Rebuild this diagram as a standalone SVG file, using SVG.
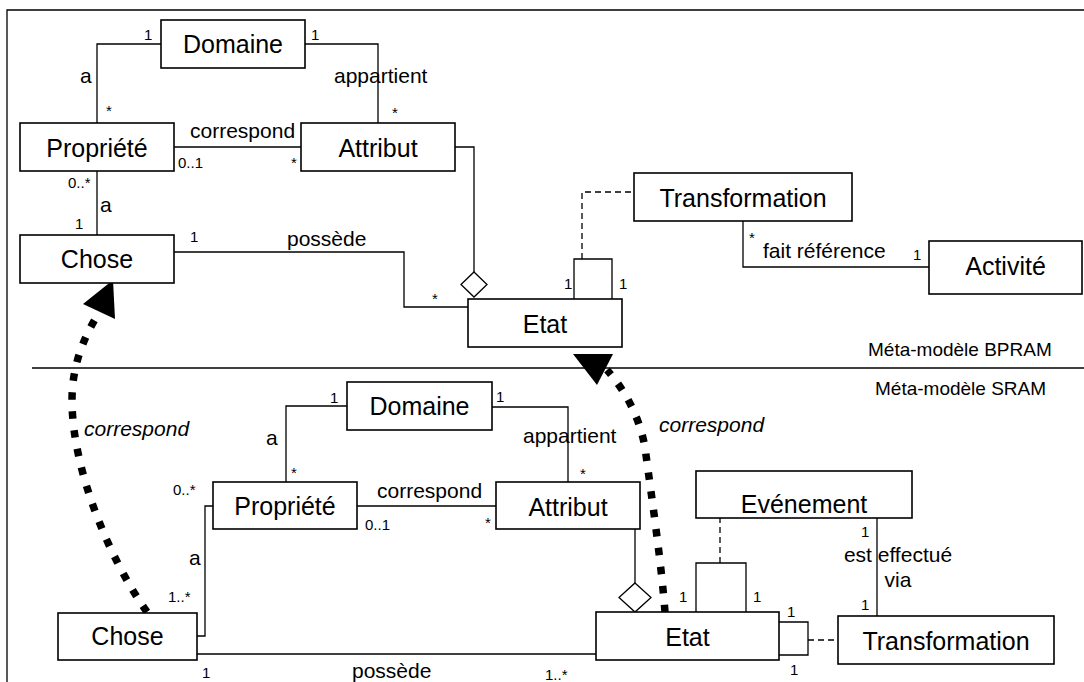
<svg xmlns="http://www.w3.org/2000/svg" width="1084" height="682" viewBox="0 0 1084 682">
<style>
.box{fill:#fff;stroke:#000;stroke-width:1.6}
.ln{fill:none;stroke:#000;stroke-width:1.3}
.dash{fill:none;stroke:#000;stroke-width:1.3;stroke-dasharray:6 4}
.dot{fill:none;stroke:#000;stroke-width:7.5;stroke-dasharray:7.5 11.5}
.dia{fill:#fff;stroke:#000;stroke-width:1.3}
text{font-family:"Liberation Sans",Arial,Helvetica,sans-serif;fill:#000}
.cls{font-size:25px;text-anchor:middle}
.lbl{font-size:21px}
.m{font-size:15px}
.it{font-style:italic}
.sec{font-size:19px}
</style>
<rect width="1084" height="682" fill="#fff"/>
<g id="connectors">
  <path class="ln" d="M7,682 V10 H1084"/>
  <path class="ln" d="M32,368 H1084"/>
  <!-- top -->
  <path class="ln" d="M161,44 H97 V123"/>
  <path class="ln" d="M305,44 H378 V123"/>
  <path class="ln" d="M174,147 H301"/>
  <path class="ln" d="M97,171 V235"/>
  <path class="ln" d="M174,252 H404 V307 H468"/>
  <path class="ln" d="M455,147 H474 V272"/>
  <polygon class="dia" points="474,272 487,284.5 474,297 461,284.5"/>
  <path class="ln" d="M574,299 V259 H612 V299"/>
  <path class="dash" d="M582,259 V192 H634"/>
  <path class="ln" d="M743,221 V267 H929"/>
  <!-- bottom -->
  <path class="ln" d="M347,406 H286 V482"/>
  <path class="ln" d="M492,407 H568 V482"/>
  <path class="ln" d="M357,506 H496"/>
  <path class="ln" d="M213,506 H205 V636 H197"/>
  <path class="ln" d="M197,654 H596"/>
  <path class="ln" d="M635,529 V583"/>
  <polygon class="dia" points="635,583 651,597.5 635,612 619,597.5"/>
  <path class="ln" d="M696,612 V563 H746 V612"/>
  <path class="dash" d="M720,563 V518"/>
  <path class="ln" d="M877,518 V616"/>
  <path class="ln" d="M779,622 H808 V655 H779"/>
  <path class="dash" d="M808,640 H838"/>
  <!-- correspond dotted arrows -->
  <path class="dot" d="M147,612 C110,560 72,470 72,400 C72,360 88,330 100,311"/>
  <polygon points="113,280 83,304 115,319" fill="#000"/>
  <path class="dot" d="M665,612 C661,560 652,500 646,455 C642,420 625,390 607,370"/>
  <polygon points="573,354 613,354 597,385" fill="#000"/>
  <!-- labels -->
  <text class="m" x="144" y="40">1</text>
  <text class="lbl" x="80" y="83">a</text>
  <text class="m" x="106" y="116">*</text>
  <text class="m" x="311" y="40">1</text>
  <text class="lbl" x="334" y="83">appartient</text>
  <text class="m" x="392" y="118">*</text>
  <text class="lbl" x="190" y="138">correspond</text>
  <text class="m" x="178" y="168">0..1</text>
  <text class="m" x="291" y="168">*</text>
  <text class="m" x="68" y="188">0..*</text>
  <text class="lbl" x="100" y="212">a</text>
  <text class="m" x="75" y="229">1</text>
  <text class="m" x="190" y="242">1</text>
  <text class="lbl" x="287" y="246">possède</text>
  <text class="m" x="432" y="304">*</text>
  <text class="m" x="564" y="289">1</text>
  <text class="m" x="619" y="289">1</text>
  <text class="m" x="749" y="243">*</text>
  <text class="lbl" x="763" y="258">fait référence</text>
  <text class="m" x="913" y="260">1</text>
  <text class="m" x="330" y="403">1</text>
  <text class="lbl" x="266" y="445">a</text>
  <text class="m" x="291" y="478">*</text>
  <text class="m" x="173" y="495">0..*</text>
  <text class="m" x="496" y="402">1</text>
  <text class="lbl" x="523" y="443">appartient</text>
  <text class="m" x="580" y="479">*</text>
  <text class="lbl" x="377" y="498">correspond</text>
  <text class="m" x="365" y="530">0..1</text>
  <text class="m" x="485" y="528">*</text>
  <text class="lbl" x="189" y="565">a</text>
  <text class="m" x="168" y="602">1..*</text>
  <text class="m" x="202" y="678">1</text>
  <text class="lbl" x="352" y="678">possède</text>
  <text class="m" x="545" y="680">1..*</text>
  <text class="m" x="679" y="602">1</text>
  <text class="m" x="753" y="602">1</text>
  <text class="m" x="787" y="617">1</text>
  <text class="m" x="790" y="675">1</text>
  <text class="m" x="861" y="537">1</text>
  <text class="lbl" x="898" y="562" text-anchor="middle">est effectué</text>
  <text class="lbl" x="898" y="587" text-anchor="middle">via</text>
  <text class="m" x="861" y="610">1</text>
  <text class="lbl it" x="84" y="436">correspond</text>
  <text class="lbl it" x="659" y="432">correspond</text>
  <text class="sec" x="868" y="356">Méta-modèle BPRAM</text>
  <text class="sec" x="875" y="395">Méta-modèle SRAM</text>
</g>
<g id="domaine1"><rect class="box" x="161" y="20" width="144" height="48"/><text class="cls" x="233" y="53">Domaine</text></g>
<g id="propriete1"><rect class="box" x="20" y="123" width="154" height="48"/><text class="cls" x="97" y="157">Propriété</text></g>
<g id="attribut1"><rect class="box" x="301" y="123" width="154" height="48"/><text class="cls" x="378" y="157">Attribut</text></g>
<g id="chose1"><rect class="box" x="20" y="235" width="154" height="48"/><text class="cls" x="97" y="268">Chose</text></g>
<g id="etat1"><rect class="box" x="468" y="299" width="154" height="48"/><text class="cls" x="545" y="333">Etat</text></g>
<g id="transformation1"><rect class="box" x="634" y="173" width="218" height="48"/><text class="cls" x="743" y="207">Transformation</text></g>
<g id="activite1"><rect class="box" x="929" y="241" width="153" height="53"/><text class="cls" x="1005.5" y="275">Activité</text></g>
<g id="domaine2"><rect class="box" x="347" y="382" width="145" height="48"/><text class="cls" x="419.5" y="415">Domaine</text></g>
<g id="propriete2"><rect class="box" x="213" y="482" width="144" height="47"/><text class="cls" x="285" y="515">Propriété</text></g>
<g id="attribut2"><rect class="box" x="496" y="482" width="144" height="47"/><text class="cls" x="568" y="516">Attribut</text></g>
<g id="chose2"><rect class="box" x="58" y="613" width="139" height="47"/><text class="cls" x="127.5" y="645">Chose</text></g>
<g id="etat2"><rect class="box" x="596" y="612" width="183" height="48"/><text class="cls" x="687.5" y="646">Etat</text></g>
<g id="evenement2"><rect class="box" x="696" y="471" width="216" height="47"/><text class="cls" x="804" y="513">Evénement</text></g>
<g id="transformation2"><rect class="box" x="838" y="616" width="216" height="48"/><text class="cls" x="946" y="650">Transformation</text></g>
</svg>
